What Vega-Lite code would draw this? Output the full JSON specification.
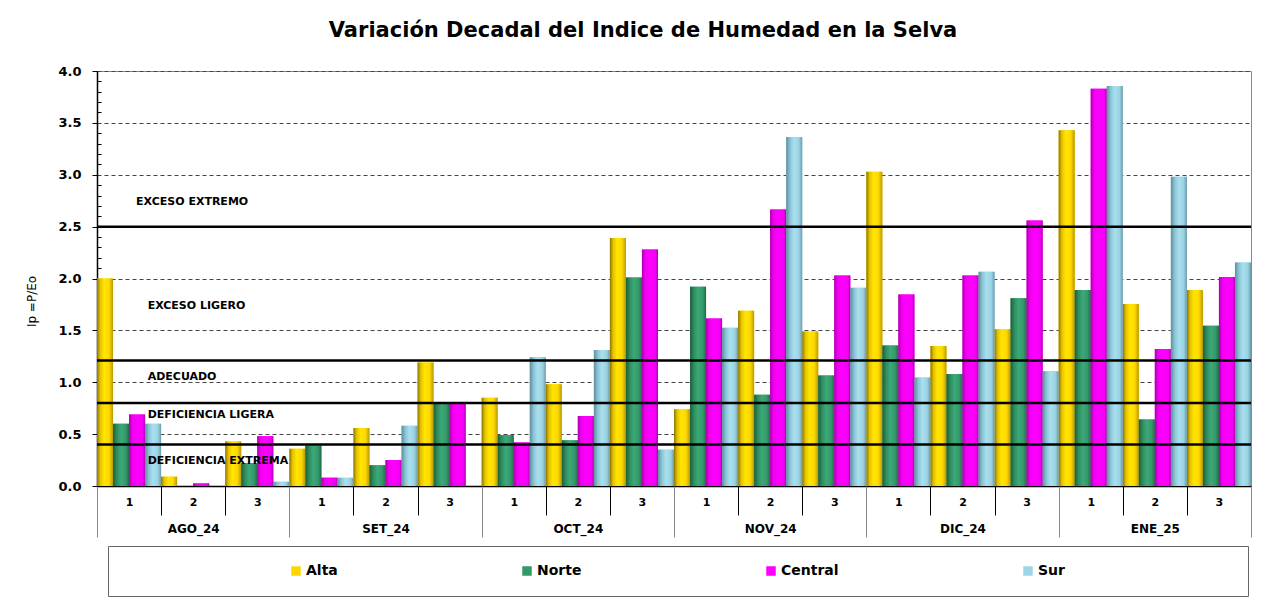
{
  "$schema": "https://vega.github.io/schema/vega-lite/v6.json",
  "width": 1154,
  "height": 415,
  "autosize": {"type": "none"},
  "padding": {"left": 97, "top": 71, "right": 34, "bottom": 130},
  "background": "#ffffff",
  "config": {
    "font": "DejaVu Sans",
    "view": {"stroke": "#888888", "strokeWidth": 1}
  },
  "title": {
    "text": "Variación Decadal del Indice de Humedad en la Selva",
    "fontSize": 21,
    "fontWeight": "bold",
    "font": "DejaVu Sans",
    "color": "#000000",
    "anchor": "middle",
    "frame": "group",
    "dx": -31,
    "baseline": "alphabetic",
    "offset": 7
  },
  "data": {
    "values": [
      {"mes": "AGO_24", "dec": "1", "periodo": "AGO_24-1", "region": "Alta", "ip": 2.0},
      {"mes": "AGO_24", "dec": "1", "periodo": "AGO_24-1", "region": "Norte", "ip": 0.6},
      {"mes": "AGO_24", "dec": "1", "periodo": "AGO_24-1", "region": "Central", "ip": 0.69},
      {"mes": "AGO_24", "dec": "1", "periodo": "AGO_24-1", "region": "Sur", "ip": 0.6},
      {"mes": "AGO_24", "dec": "2", "periodo": "AGO_24-2", "region": "Alta", "ip": 0.09},
      {"mes": "AGO_24", "dec": "2", "periodo": "AGO_24-2", "region": "Norte", "ip": 0.0},
      {"mes": "AGO_24", "dec": "2", "periodo": "AGO_24-2", "region": "Central", "ip": 0.025},
      {"mes": "AGO_24", "dec": "2", "periodo": "AGO_24-2", "region": "Sur", "ip": 0.0},
      {"mes": "AGO_24", "dec": "3", "periodo": "AGO_24-3", "region": "Alta", "ip": 0.43},
      {"mes": "AGO_24", "dec": "3", "periodo": "AGO_24-3", "region": "Norte", "ip": 0.22},
      {"mes": "AGO_24", "dec": "3", "periodo": "AGO_24-3", "region": "Central", "ip": 0.48},
      {"mes": "AGO_24", "dec": "3", "periodo": "AGO_24-3", "region": "Sur", "ip": 0.04},
      {"mes": "SET_24", "dec": "1", "periodo": "SET_24-1", "region": "Alta", "ip": 0.36},
      {"mes": "SET_24", "dec": "1", "periodo": "SET_24-1", "region": "Norte", "ip": 0.39},
      {"mes": "SET_24", "dec": "1", "periodo": "SET_24-1", "region": "Central", "ip": 0.08},
      {"mes": "SET_24", "dec": "1", "periodo": "SET_24-1", "region": "Sur", "ip": 0.08},
      {"mes": "SET_24", "dec": "2", "periodo": "SET_24-2", "region": "Alta", "ip": 0.56},
      {"mes": "SET_24", "dec": "2", "periodo": "SET_24-2", "region": "Norte", "ip": 0.2},
      {"mes": "SET_24", "dec": "2", "periodo": "SET_24-2", "region": "Central", "ip": 0.25},
      {"mes": "SET_24", "dec": "2", "periodo": "SET_24-2", "region": "Sur", "ip": 0.58},
      {"mes": "SET_24", "dec": "3", "periodo": "SET_24-3", "region": "Alta", "ip": 1.19},
      {"mes": "SET_24", "dec": "3", "periodo": "SET_24-3", "region": "Norte", "ip": 0.8},
      {"mes": "SET_24", "dec": "3", "periodo": "SET_24-3", "region": "Central", "ip": 0.8},
      {"mes": "SET_24", "dec": "3", "periodo": "SET_24-3", "region": "Sur", "ip": 0.0},
      {"mes": "OCT_24", "dec": "1", "periodo": "OCT_24-1", "region": "Alta", "ip": 0.85},
      {"mes": "OCT_24", "dec": "1", "periodo": "OCT_24-1", "region": "Norte", "ip": 0.49},
      {"mes": "OCT_24", "dec": "1", "periodo": "OCT_24-1", "region": "Central", "ip": 0.42},
      {"mes": "OCT_24", "dec": "1", "periodo": "OCT_24-1", "region": "Sur", "ip": 1.24},
      {"mes": "OCT_24", "dec": "2", "periodo": "OCT_24-2", "region": "Alta", "ip": 0.98},
      {"mes": "OCT_24", "dec": "2", "periodo": "OCT_24-2", "region": "Norte", "ip": 0.44},
      {"mes": "OCT_24", "dec": "2", "periodo": "OCT_24-2", "region": "Central", "ip": 0.675},
      {"mes": "OCT_24", "dec": "2", "periodo": "OCT_24-2", "region": "Sur", "ip": 1.31},
      {"mes": "OCT_24", "dec": "3", "periodo": "OCT_24-3", "region": "Alta", "ip": 2.39},
      {"mes": "OCT_24", "dec": "3", "periodo": "OCT_24-3", "region": "Norte", "ip": 2.01},
      {"mes": "OCT_24", "dec": "3", "periodo": "OCT_24-3", "region": "Central", "ip": 2.28},
      {"mes": "OCT_24", "dec": "3", "periodo": "OCT_24-3", "region": "Sur", "ip": 0.35},
      {"mes": "NOV_24", "dec": "1", "periodo": "NOV_24-1", "region": "Alta", "ip": 0.74},
      {"mes": "NOV_24", "dec": "1", "periodo": "NOV_24-1", "region": "Norte", "ip": 1.92},
      {"mes": "NOV_24", "dec": "1", "periodo": "NOV_24-1", "region": "Central", "ip": 1.615},
      {"mes": "NOV_24", "dec": "1", "periodo": "NOV_24-1", "region": "Sur", "ip": 1.525},
      {"mes": "NOV_24", "dec": "2", "periodo": "NOV_24-2", "region": "Alta", "ip": 1.69},
      {"mes": "NOV_24", "dec": "2", "periodo": "NOV_24-2", "region": "Norte", "ip": 0.88},
      {"mes": "NOV_24", "dec": "2", "periodo": "NOV_24-2", "region": "Central", "ip": 2.665},
      {"mes": "NOV_24", "dec": "2", "periodo": "NOV_24-2", "region": "Sur", "ip": 3.365},
      {"mes": "NOV_24", "dec": "3", "periodo": "NOV_24-3", "region": "Alta", "ip": 1.49},
      {"mes": "NOV_24", "dec": "3", "periodo": "NOV_24-3", "region": "Norte", "ip": 1.065},
      {"mes": "NOV_24", "dec": "3", "periodo": "NOV_24-3", "region": "Central", "ip": 2.03},
      {"mes": "NOV_24", "dec": "3", "periodo": "NOV_24-3", "region": "Sur", "ip": 1.91},
      {"mes": "DIC_24", "dec": "1", "periodo": "DIC_24-1", "region": "Alta", "ip": 3.03},
      {"mes": "DIC_24", "dec": "1", "periodo": "DIC_24-1", "region": "Norte", "ip": 1.355},
      {"mes": "DIC_24", "dec": "1", "periodo": "DIC_24-1", "region": "Central", "ip": 1.845},
      {"mes": "DIC_24", "dec": "1", "periodo": "DIC_24-1", "region": "Sur", "ip": 1.045},
      {"mes": "DIC_24", "dec": "2", "periodo": "DIC_24-2", "region": "Alta", "ip": 1.35},
      {"mes": "DIC_24", "dec": "2", "periodo": "DIC_24-2", "region": "Norte", "ip": 1.08},
      {"mes": "DIC_24", "dec": "2", "periodo": "DIC_24-2", "region": "Central", "ip": 2.03},
      {"mes": "DIC_24", "dec": "2", "periodo": "DIC_24-2", "region": "Sur", "ip": 2.065},
      {"mes": "DIC_24", "dec": "3", "periodo": "DIC_24-3", "region": "Alta", "ip": 1.51},
      {"mes": "DIC_24", "dec": "3", "periodo": "DIC_24-3", "region": "Norte", "ip": 1.81},
      {"mes": "DIC_24", "dec": "3", "periodo": "DIC_24-3", "region": "Central", "ip": 2.56},
      {"mes": "DIC_24", "dec": "3", "periodo": "DIC_24-3", "region": "Sur", "ip": 1.105},
      {"mes": "ENE_25", "dec": "1", "periodo": "ENE_25-1", "region": "Alta", "ip": 3.43},
      {"mes": "ENE_25", "dec": "1", "periodo": "ENE_25-1", "region": "Norte", "ip": 1.89},
      {"mes": "ENE_25", "dec": "1", "periodo": "ENE_25-1", "region": "Central", "ip": 3.83},
      {"mes": "ENE_25", "dec": "1", "periodo": "ENE_25-1", "region": "Sur", "ip": 3.855},
      {"mes": "ENE_25", "dec": "2", "periodo": "ENE_25-2", "region": "Alta", "ip": 1.755},
      {"mes": "ENE_25", "dec": "2", "periodo": "ENE_25-2", "region": "Norte", "ip": 0.64},
      {"mes": "ENE_25", "dec": "2", "periodo": "ENE_25-2", "region": "Central", "ip": 1.32},
      {"mes": "ENE_25", "dec": "2", "periodo": "ENE_25-2", "region": "Sur", "ip": 2.98},
      {"mes": "ENE_25", "dec": "3", "periodo": "ENE_25-3", "region": "Alta", "ip": 1.89},
      {"mes": "ENE_25", "dec": "3", "periodo": "ENE_25-3", "region": "Norte", "ip": 1.545},
      {"mes": "ENE_25", "dec": "3", "periodo": "ENE_25-3", "region": "Central", "ip": 2.015},
      {"mes": "ENE_25", "dec": "3", "periodo": "ENE_25-3", "region": "Sur", "ip": 2.155}
    ]
  },
  "layer": [
    {
      "encoding": {
        "x": {
          "field": "periodo", "type": "nominal", "sort": null,
          "scale": {"paddingInner": 0, "paddingOuter": 0},
          "axis": {
            "title": null, "orient": "bottom",
            "labelExpr": "split(datum.label, '-')[1]",
            "tickBand": "extent", "tickSize": 29, "tickColor": "#000000", "tickWidth": 1,
            "domainColor": "#000000", "domainWidth": 1.5,
            "labelFont": "DejaVu Sans", "labelFontSize": 11, "labelFontWeight": "bold", "labelColor": "#000000",
            "labelPadding": -13, "labelBaseline": "middle", "labelAngle": 0, "labelOverlap": false
          }
        },
        "xOffset": {
          "field": "region", "type": "nominal",
          "scale": {"domain": ["Alta", "Norte", "Central", "Sur"], "paddingInner": 0, "paddingOuter": 0}
        },
        "y": {
          "field": "ip", "type": "quantitative",
          "scale": {"domain": [0, 4], "nice": false},
          "axis": {
            "title": "Ip =P/Eo", "titleFontSize": 12, "titleFontWeight": "normal", "titleColor": "#000000", "titlePadding": 19, "titleY": 230,
            "values": [0, 0.5, 1, 1.5, 2, 2.5, 3, 3.5, 4], "format": ".1f", "orient": "left",
            "labelFont": "DejaVu Sans", "labelFontSize": 13, "labelFontWeight": "bold", "labelColor": "#000000", "labelPadding": 11,
            "tickSize": 5, "tickColor": "#000000", "domainColor": "#000000", "domainWidth": 1.5,
            "grid": true, "gridDash": [4, 3], "gridColor": "#444444", "gridWidth": 1
          }
        }
      },
      "layer": [
        {
          "mark": {"type": "bar"},
          "encoding": {
            "color": {
              "field": "region", "type": "nominal",
              "scale": {"domain": ["Alta", "Norte", "Central", "Sur"], "range": ["#FFD700", "#339966", "#FF00FF", "#9DD5E6"]},
              "legend": {
                "orient": "none", "legendX": 11, "legendY": 475, "direction": "horizontal",
                "title": "\u00a0", "titleOrient": "left", "titlePadding": 163, "titleFontSize": 14,
                "symbolType": "square", "symbolSize": 90, "symbolStrokeWidth": 0,
                "labelFont": "DejaVu Sans", "labelFontSize": 14, "labelFontWeight": "bold", "labelColor": "#000000", "labelOffset": 3,
                "labelLimit": 400,
                "columnPadding": 182, "padding": 18, "strokeColor": "#666666", "fillColor": "#ffffff",
                "labelExpr": "datum.label == 'Sur' ? 'Sur\u2800\u2800\u2800\u2800\u2800\u2800\u2800\u2800\u2800\u2800\u2800\u2800\u2800\u2800\u2800' : datum.label"
              }
            }
          }
        },
        {
          "transform": [{"filter": "datum.region == 'Alta'"}],
          "mark": {"type": "bar", "color": {"gradient": "linear", "x1": 0, "y1": 0, "x2": 1, "y2": 0, "stops": [
            {"offset": 0, "color": "#8C7400"}, {"offset": 0.2, "color": "#E6C200"}, {"offset": 0.45, "color": "#FFE600"}, {"offset": 0.75, "color": "#FFD800"}, {"offset": 1, "color": "#B89A00"}]}}
        },
        {
          "transform": [{"filter": "datum.region == 'Norte'"}],
          "mark": {"type": "bar", "color": {"gradient": "linear", "x1": 0, "y1": 0, "x2": 1, "y2": 0, "stops": [
            {"offset": 0, "color": "#1C5E3E"}, {"offset": 0.25, "color": "#2F8F5F"}, {"offset": 0.5, "color": "#3DA878"}, {"offset": 0.8, "color": "#33996A"}, {"offset": 1, "color": "#226B48"}]}}
        },
        {
          "transform": [{"filter": "datum.region == 'Central'"}],
          "mark": {"type": "bar", "color": {"gradient": "linear", "x1": 0, "y1": 0, "x2": 1, "y2": 0, "stops": [
            {"offset": 0, "color": "#A800A8"}, {"offset": 0.2, "color": "#F000F0"}, {"offset": 0.5, "color": "#FF00FF"}, {"offset": 0.85, "color": "#F500F5"}, {"offset": 1, "color": "#B000B0"}]}}
        },
        {
          "transform": [{"filter": "datum.region == 'Sur'"}],
          "mark": {"type": "bar", "color": {"gradient": "linear", "x1": 0, "y1": 0, "x2": 1, "y2": 0, "stops": [
            {"offset": 0, "color": "#5E8E9C"}, {"offset": 0.25, "color": "#8CC6D6"}, {"offset": 0.5, "color": "#A8E0F0"}, {"offset": 0.8, "color": "#9AD2E2"}, {"offset": 1, "color": "#6A9CAA"}]}}
        },
        {
          "data": {"values": [{"t": "EXCESO EXTREMO", "v": 2.74}]},
          "mark": {"type": "text", "align": "left", "baseline": "middle", "fontSize": 11, "fontWeight": "bold", "font": "DejaVu Sans", "color": "#000000"},
          "encoding": {
            "x": {"datum": "AGO_24-1", "type": "nominal", "bandPosition": 0.61},
            "xOffset": null,
            "y": {"field": "v", "type": "quantitative"},
            "text": {"field": "t"}
          }
        },
        {
          "data": {"values": [
            {"t": "EXCESO LIGERO", "v": 1.735},
            {"t": "ADECUADO", "v": 1.05},
            {"t": "DEFICIENCIA LIGERA", "v": 0.68},
            {"t": "DEFICIENCIA EXTREMA", "v": 0.24}
          ]},
          "mark": {"type": "text", "align": "left", "baseline": "middle", "fontSize": 11, "fontWeight": "bold", "font": "DejaVu Sans", "color": "#000000"},
          "encoding": {
            "x": {"datum": "AGO_24-1", "type": "nominal", "bandPosition": 0.79},
            "xOffset": null,
            "y": {"field": "v", "type": "quantitative"},
            "text": {"field": "t"}
          }
        }
      ]
    },
    {
      "mark": {"type": "point", "opacity": 0},
      "encoding": {
        "x": {
          "field": "mes", "type": "nominal", "sort": null,
          "scale": {"paddingInner": 0, "paddingOuter": 0},
          "axis": {
            "title": null, "orient": "bottom", "domain": false,
            "tickBand": "extent", "tickSize": 51, "tickColor": "#888888", "tickWidth": 1,
            "labelFont": "DejaVu Sans", "labelFontSize": 12, "labelFontWeight": "bold", "labelColor": "#000000",
            "labelPadding": -9, "labelBaseline": "middle", "labelAngle": 0, "labelOverlap": false
          }
        },
        "y": {
          "field": "ip", "type": "quantitative",
          "scale": {"domain": [0, 4], "nice": false},
          "axis": {
            "title": null, "labels": false, "domain": false, "grid": false, "orient": "left",
            "values": [0.1, 0.2, 0.3, 0.4, 0.6, 0.7, 0.8, 0.9, 1.1, 1.2, 1.3, 1.4, 1.6, 1.7, 1.8, 1.9, 2.1, 2.2, 2.3, 2.4, 2.6, 2.7, 2.8, 2.9, 3.1, 3.2, 3.3, 3.4, 3.6, 3.7, 3.8, 3.9],
            "tickSize": -4, "tickColor": "#000000"
          }
        }
      }
    },
    {
      "data": {"values": [{"v": 2.5}, {"v": 1.21}, {"v": 0.8}, {"v": 0.4}]},
      "mark": {"type": "rule", "color": "#000000", "strokeWidth": 2.5},
      "encoding": {
        "y": {"field": "v", "type": "quantitative", "scale": {"domain": [0, 4], "nice": false}, "axis": null}
      }
    }
  ],
  "resolve": {
    "scale": {"x": "independent", "y": "independent"},
    "axis": {"x": "independent", "y": "independent"}
  }
}
